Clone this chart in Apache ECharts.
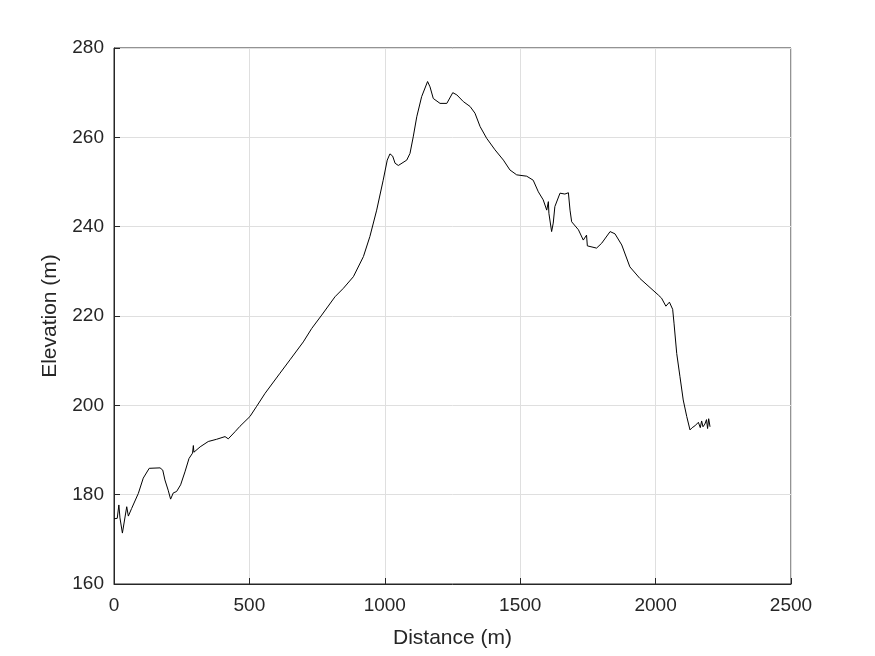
<!DOCTYPE html>
<html><head><meta charset="utf-8">
<script src="https://cdn.jsdelivr.net/npm/echarts@6/dist/echarts.min.js"></script>
<style>html,body{margin:0;padding:0;background:#fff}#c{width:875px;height:656px}</style>
</head><body><div id="c"></div>
<script>
var distance = [0,12,18,22,31,37,47,53,65,90,108,130,170,180,188,200,209,219,231,246,262,277,290,293,295,318,348,379,410,422,447,465,502,527,558,613,650,699,730,767,816,847,884,921,945,970,994,1009,1019,1023,1029,1038,1050,1081,1093,1105,1118,1136,1158,1167,1179,1204,1229,1235,1251,1266,1290,1315,1333,1352,1376,1407,1438,1462,1487,1524,1548,1567,1585,1598,1604,1606,1616,1622,1628,1647,1665,1678,1684,1690,1715,1733,1745,1748,1782,1801,1832,1850,1875,1905,1942,2010,2022,2038,2051,2063,2068,2078,2090,2102,2115,2127,2135,2140,2145,2152,2158,2165,2170,2175,2182,2188,2192,2196,2201];
var elevation = [174.6,174.7,177.7,174.8,171.4,171.7,177.3,175.2,176.9,180.3,183.7,185.9,186.0,185.5,183.3,181.0,179.0,180.4,180.7,182.2,185.1,188.1,189.3,191.0,189.5,190.7,191.9,192.4,193.0,192.5,194.1,195.3,197.5,199.8,202.7,207.2,210.2,214.2,217.2,220.2,224.3,226.2,228.8,233.3,237.8,243.7,250.4,254.9,256.3,256.3,255.8,254.2,253.7,254.9,256.4,260.1,264.6,269.1,272.5,271.3,268.7,267.6,267.6,268.0,270.0,269.5,268.0,266.9,265.4,262.4,259.8,257.2,254.9,252.7,251.6,251.3,250.4,247.8,246.0,243.7,245.6,243.0,238.9,240.8,244.5,247.5,247.3,247.6,243.7,241.1,239.3,237.0,238.1,235.7,235.2,236.3,238.9,238.4,235.9,231.0,228.4,224.7,224.0,222.2,223.1,221.5,218.4,211.6,206.4,201.2,197.5,194.5,195.0,194.8,195.4,195.0,196.2,195.0,196.5,195.2,195.8,196.8,194.8,197.0,195.2];

var data = distance.map(function(d,i){return [d, elevation[i]];});
var ff = 'Liberation Sans, Arial, sans-serif';
var chart = echarts.init(document.getElementById('c'));
chart.setOption({
  animation:false,
  grid:{left:114,right:84,top:48,bottom:72,show:true,borderColor:'#262626',borderWidth:1},
  xAxis:{
    type:'value',min:0,max:2500,interval:500,
    name:'Distance (m)',nameLocation:'middle',nameGap:44,
    nameTextStyle:{fontFamily:ff,fontSize:21,color:'#262626'},
    axisLine:{lineStyle:{color:'#262626'}},
    axisTick:{inside:true,length:6,lineStyle:{color:'#262626'}},
    axisLabel:{fontFamily:ff,fontSize:19,color:'#262626',margin:12,formatter:function(v){return String(v);}},
    splitLine:{show:true,lineStyle:{color:'#dfdfdf',width:1}}
  },
  yAxis:{
    type:'value',min:160,max:280,interval:20,
    name:'Elevation (m)',nameLocation:'middle',nameGap:53,
    nameTextStyle:{fontFamily:ff,fontSize:21,color:'#262626'},
    axisLine:{show:true,lineStyle:{color:'#262626'}},
    axisTick:{show:true,inside:true,length:6,lineStyle:{color:'#262626'}},
    axisLabel:{fontFamily:ff,fontSize:19,color:'#262626',margin:10,formatter:function(v){return String(v);}},
    splitLine:{show:true,lineStyle:{color:'#dfdfdf',width:1}}
  },
  series:[{
    type:'line',data:data,showSymbol:false,symbol:'none',
    lineStyle:{color:'#000',width:1},smooth:false
  }]
});
</script></body></html>
